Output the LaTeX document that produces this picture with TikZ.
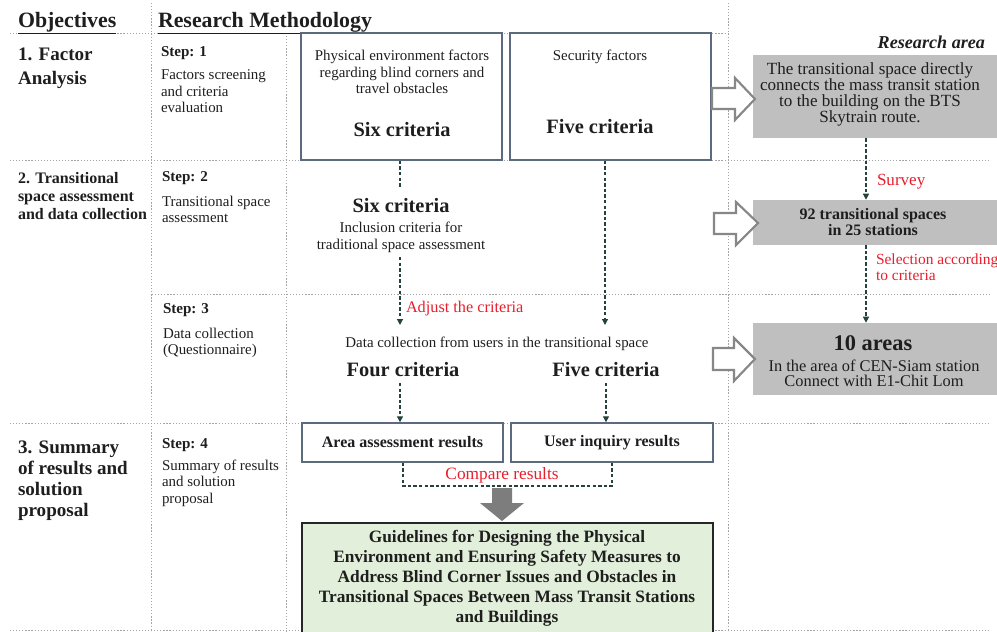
\documentclass[tikz,border=0pt]{standalone}
\usepackage{fontspec}
\setmainfont{Liberation Serif}
\usetikzlibrary{arrows.meta,fit}
\newcommand{\myfs}[2]{\fontsize{#1}{#2}\selectfont}
\definecolor{boxline}{RGB}{92,106,126}
\definecolor{grayfill}{RGB}{191,191,191}
\definecolor{greenfill}{RGB}{226,239,218}
\definecolor{redtxt}{RGB}{232,30,45}
\definecolor{arrowc}{RGB}{38,66,62}
\definecolor{dotc}{RGB}{165,165,165}
\definecolor{hollowc}{RGB}{135,135,135}
\definecolor{bigarrowc}{RGB}{125,125,125}
\definecolor{txtc}{RGB}{30,30,30}
\begin{document}
\begin{tikzpicture}[x=0.75pt,y=-0.75pt,
  txt/.style={inner sep=0pt, outer sep=0pt, text=txtc},
  objtxt/.style={txt, font=\bfseries\myfs{14.3}{17.8}, align=left, anchor=north west},
  steptitle/.style={txt, font=\bfseries\myfs{11.3}{12}, anchor=north west},
  steptxt/.style={txt, font=\myfs{11.2}{12.2}, align=left, anchor=north west},
  body/.style={txt, font=\myfs{11.2}{12.4}, align=center},
  crit/.style={txt, font=\bfseries\myfs{15.3}{16}},
  redlbl/.style={txt, text=redtxt, font=\myfs{12.2}{12}},
  fbox/.style={draw=boxline, line width=1.1pt, inner sep=0pt},
  graybox/.style={fill=grayfill, draw=none, inner sep=0pt},
  greenbox/.style={fill=greenfill, draw=black!85, line width=1.4pt, inner sep=0pt},
  dotline/.style={draw=dotc, line width=0.6pt, dash pattern=on 0.9pt off 1.4pt},
  dashline/.style={draw=arrowc, line width=0.9pt, dash pattern=on 2.6pt off 1.6pt},
  dasharrow/.style={dashline, -{Triangle[length=4.5pt,width=4.5pt]}},
  hollow/.style={draw=hollowc, fill=white, line width=1.6pt, line join=miter},
]
\useasboundingbox (0,0) rectangle (997,632);

% dotted grid
\draw[dotline] (151,3) -- (151,632);
\draw[dotline] (286,33) -- (286,632);
\draw[dotline] (728,3) -- (728,632);
\draw[dotline] (10,33) -- (728,33);
\draw[dotline] (10,160) -- (990,160);
\draw[dotline] (152,294) -- (990,294);
\draw[dotline] (10,423) -- (990,423);
\draw[dotline] (10,630) -- (990,630);

% headers
\node[txt, anchor=base west, font=\bfseries\myfs{16.4}{17}] (hobj) at (18,27) {\underline{Objectives}};
\node[txt, anchor=base west, font=\bfseries\myfs{16.4}{17}] (hmeth) at (158,27) {\underline{Research Methodology}};

% objectives
\node[objtxt] (o1) at (18,48) {1. Factor\\Analysis};
\node[objtxt, font=\bfseries\myfs{12}{13.5}] (o2) at (18,172) {2. Transitional\\space assessment\\and data collection};
\node[objtxt, font=\bfseries\myfs{14.3}{15.7}] (o3) at (18,441) {3. Summary\\of results and\\solution\\proposal};

% steps
\node[steptitle] (s1) at (161,47) {Step: 1};
\node[steptxt] (s1t) at (161,70) {Factors screening\\and criteria\\evaluation};
\node[steptitle] (s2) at (162,172) {Step: 2};
\node[steptxt] (s2t) at (162,196) {Transitional space\\assessment};
\node[steptitle] (s3) at (163,304) {Step: 3};
\node[steptxt] (s3t) at (163,328) {Data collection\\(Questionnaire)};
\node[steptitle] (s4) at (162,439) {Step: 4};
\node[steptxt] (s4t) at (162,460) {Summary of results\\and solution\\proposal};

% top boxes
\coordinate (a1) at (301,33); \coordinate (a2) at (502,160);
\node[fbox, fit=(a1)(a2)] (A) {};
\coordinate (b1) at (510,33); \coordinate (b2) at (711,160);
\node[fbox, fit=(b1)(b2)] (B) {};
\node[body, anchor=north] (Atxt) at (402,50) {Physical environment factors\\regarding blind corners and\\travel obstacles};
\node[crit] (Acrit) at (402,130) {Six criteria};
\node[body] (Btxt) at (600,57) {Security factors};
\node[crit] (Bcrit) at (600,127) {Five criteria};

% middle flow
\node[crit] (six2) at (401,206) {Six criteria};
\node[body, anchor=north] (incl) at (401,222) {Inclusion criteria for\\traditional space assessment};
\node[body] (dcoll) at (497,344) {Data collection from users in the transitional space};
\node[crit] (four) at (403,370) {Four criteria};
\node[crit] (five2) at (606,370) {Five criteria};
\coordinate (j1) at (400,325);
\coordinate (j2) at (605,325);
\node[redlbl, anchor=west] (adj) at (406,309) {Adjust the criteria};

\draw[dashline] (A.south -| j1) -- (400,187) coordinate (j0);
\draw[dasharrow] (400,257) coordinate (j0b) -- (j1);
\draw[dasharrow] (B.south -| j2) -- (j2);

% result boxes
\coordinate (c1) at (302,423); \coordinate (c2) at (503,462);
\node[fbox, fit=(c1)(c2)] (C) {};
\coordinate (d1) at (511,423); \coordinate (d2) at (713,462);
\node[fbox, fit=(d1)(d2)] (D) {};
\node[txt, font=\bfseries\myfs{12}{13}] (Ctxt) at (C.center) {Area assessment results};
\node[txt, font=\bfseries\myfs{12}{13}] (Dtxt) at (D.center) {User inquiry results};
\coordinate (k1) at (400,383);
\coordinate (k2) at (606,383);
\draw[dasharrow] (k1) -- (C.north -| k1);
\draw[dasharrow] (k2) -- (D.north -| k2);

% compare bracket
\coordinate (m1) at (403,486); \coordinate (m2) at (612,486);
\draw[dashline] (C.south -| m1) -- (m1) -- (m2) -- (D.south -| m2);
\node[redlbl, font=\myfs{13}{14}] (cmp) at (502,475) {Compare results};

% big arrow
\fill[bigarrowc] (492,488) -- (512,488) -- (512,503) -- (524,503) -- (502,521) -- (480,503) -- (492,503) -- cycle;

% guideline box
\coordinate (e1) at (302,523); \coordinate (e2) at (713,640);
\node[greenbox, fit=(e1)(e2)] (E) {};
\node[txt, font=\bfseries\myfs{13}{15}, align=center] (Etxt) at (507,578) {Guidelines for Designing the Physical\\Environment and Ensuring Safety Measures to\\Address Blind Corner Issues and Obstacles in\\Transitional Spaces Between Mass Transit Stations\\and Buildings};

% research area
\node[txt, anchor=east, font=\bfseries\itshape\myfs{13.6}{14}] (ra) at (985,42) {Research area};
\coordinate (r1a) at (753,55); \coordinate (r1b) at (997,138);
\node[graybox, fit=(r1a)(r1b)] (R1) {};
\node[txt, font=\myfs{12.8}{12}, align=center] (R1t) at (870,94) {The transitional space directly\\connects the mass transit station\\to the building on the BTS\\Skytrain route.};
\coordinate (r2a) at (753,200); \coordinate (r2b) at (997,245);
\node[graybox, fit=(r2a)(r2b)] (R2) {};
\node[txt, font=\bfseries\myfs{12}{12}, align=center] (R2t) at (873,222) {92 transitional spaces\\in 25 stations};
\coordinate (r3a) at (753,323); \coordinate (r3b) at (997,395);
\node[graybox, fit=(r3a)(r3b)] (R3) {};
\node[txt, font=\bfseries\myfs{16.8}{17}] (R3h) at (873,343) {10 areas};
\node[txt, font=\myfs{12.3}{11.5}, align=center] (R3t) at (874,373) {In the area of CEN-Siam station\\Connect with E1-Chit Lom};

\coordinate (rx) at (866,0);
\draw[dasharrow] (R1.south -| rx) -- (R2.north -| rx);
\draw[dasharrow] (R2.south -| rx) -- (R3.north -| rx);
\node[redlbl, anchor=west, font=\myfs{12.8}{13}] (surv) at (877,182) {Survey};
\node[redlbl, anchor=north west, align=left, font=\myfs{11.6}{12}] (sel) at (876,254) {Selection according\\to criteria};

% hollow arrows
\draw[hollow] (712,88) -- (735,88) -- (735,78) -- (755,99) -- (735,120) -- (735,109) -- (712,109) -- cycle;
\draw[hollow] (714,213) -- (736,213) -- (736,202) -- (758,223) -- (736,245) -- (736,234) -- (714,234) -- cycle;
\draw[hollow] (713,348) -- (734,348) -- (734,338) -- (755,359) -- (734,381) -- (734,370) -- (713,370) -- cycle;
\end{tikzpicture}
\end{document}
